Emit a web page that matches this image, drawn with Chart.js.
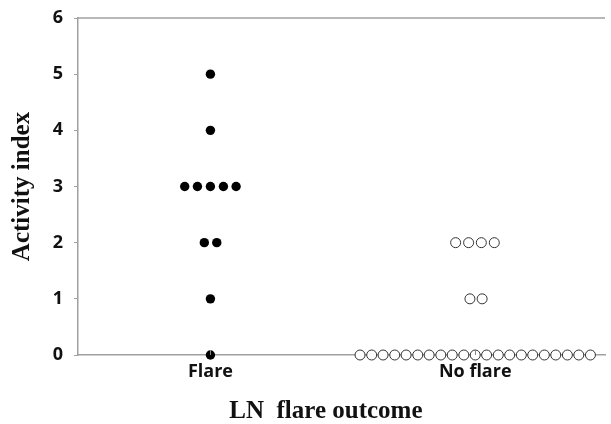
<!DOCTYPE html>
<html>
<head>
<meta charset="utf-8">
<script src="https://cdn.jsdelivr.net/npm/chart.js@4/dist/chart.umd.min.js"></script>
<style>
html,body{margin:0;padding:0;background:#fff;}
#wrap{width:611px;height:424px;position:relative;}
</style>
</head>
<body>
<div id="wrap"><canvas id="c" width="611" height="424"></canvas></div>
<script>
// Category positions and labels
const categories = ["Flare", "No flare"];
const categoryPos = [1, 2];
const yTicks = [0, 1, 2, 3, 4, 5, 6];

// Flare group (filled dots): activity index values and jittered x positions
const flareY = [5, 4, 3, 3, 3, 3, 3, 2, 2, 1, 0];
const flareX = [1.000, 1.000, 0.903, 0.951, 1.000, 1.049, 1.097, 0.977, 1.024, 1.000, 1.000];

// No flare group (open circles)
const noFlareY = [2, 2, 2, 2, 1, 1,
  0, 0, 0, 0, 0, 0, 0, 0, 0, 0, 0, 0, 0, 0, 0, 0, 0, 0, 0, 0, 0];
const noFlareX = [1.926, 1.975, 2.023, 2.072, 1.980, 2.026,
  1.565, 1.609, 1.652, 1.696, 1.739, 1.783, 1.826, 1.870, 1.913, 1.957, 2.000,
  2.043, 2.087, 2.130, 2.174, 2.217, 2.261, 2.304, 2.348, 2.391, 2.435];

const toPts = (xs, ys) => xs.map((x, i) => ({x: x, y: ys[i]}));

const axisGrey = '#a0a0a0';

const framePlugin = {
  id: 'frame',
  afterDatasetsDraw(chart) {
    const {ctx, chartArea, scales} = chart;
    ctx.save();
    ctx.strokeStyle = axisGrey;
    ctx.lineWidth = 1.5;
    // top border line
    ctx.beginPath();
    ctx.moveTo(chartArea.left, chartArea.top);
    ctx.lineTo(chartArea.right, chartArea.top);
    ctx.stroke();
    // inward x tick marks at category centers
    ctx.lineWidth = 1;
    ctx.strokeStyle = '#888';
    categoryPos.forEach(v => {
      const px = Math.round(scales.x.getPixelForValue(v)) + 0.5;
      ctx.beginPath();
      ctx.moveTo(px, chartArea.bottom);
      ctx.lineTo(px, chartArea.bottom - 5);
      ctx.stroke();
    });
    ctx.restore();
  }
};

new Chart(document.getElementById('c'), {
  type: 'scatter',
  data: {
    datasets: [
      {
        label: 'Flare',
        data: toPts(flareX, flareY),
        pointRadius: 4.7,
        pointBackgroundColor: '#000',
        pointBorderColor: '#000',
        pointBorderWidth: 0,
        clip: false
      },
      {
        label: 'No flare',
        data: toPts(noFlareX, noFlareY),
        pointRadius: 5,
        pointBackgroundColor: '#fff',
        pointBorderColor: '#333',
        pointBorderWidth: 1,
        clip: false
      }
    ]
  },
  options: {
    responsive: false,
    animation: false,
    layout: {padding: {left: 0, right: 0, top: 18, bottom: 0}},
    plugins: {legend: {display: false}, tooltip: {enabled: false}},
    scales: {
      x: {
        type: 'linear',
        min: 0.5,
        max: 2.49,
        afterBuildTicks(scale) {
          scale.ticks = categoryPos.map(v => ({value: v}));
        },
        afterFit(scale) {
          scale.height = 424 - 355;
          scale.paddingLeft = 0;
          scale.paddingRight = 0;
        },
        ticks: {
          callback: (v) => {
            const i = categoryPos.indexOf(v);
            return i >= 0 ? categories[i] : '';
          },
          font: {family: 'Open Sans', weight: 'bold', size: 18},
          color: '#111',
          padding: 6,
          maxRotation: 0,
          autoSkip: false
        },
        grid: {display: false, drawTicks: false},
        border: {display: true, color: axisGrey, width: 1.5},
        title: {
          display: true,
          text: 'LN  flare outcome     ',
          font: {family: 'Liberation Serif', weight: 'bold', size: 25, lineHeight: 1},
          color: '#111',
          padding: {top: -2, bottom: 0}
        }
      },
      y: {
        min: 0,
        max: 6,
        afterBuildTicks(scale) {
          scale.ticks = yTicks.map(v => ({value: v}));
        },
        afterFit(scale) {
          scale.width = 78;
          scale.paddingTop = 0;
          scale.paddingBottom = 0;
        },
        ticks: {
          font: {family: 'Open Sans', weight: 'bold', size: 18},
          color: '#111',
          padding: 11
        },
        grid: {
          display: true,
          drawOnChartArea: false,
          drawTicks: true,
          tickLength: 4,
          color: axisGrey,
          lineWidth: 1
        },
        border: {display: true, color: axisGrey, width: 1.5},
        title: {
          display: true,
          text: 'Activity index',
          font: {family: 'Liberation Serif', weight: 'bold', size: 25, lineHeight: 1},
          color: '#111',
          padding: {top: 10, bottom: 0}
        }
      }
    }
  },
  plugins: [framePlugin]
});
</script>
</body>
</html>
